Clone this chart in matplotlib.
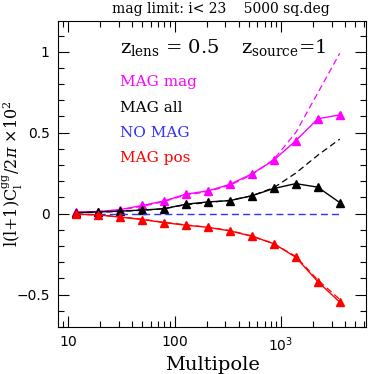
import numpy as np
import matplotlib
matplotlib.use('Agg')
import matplotlib.pyplot as plt
from matplotlib.ticker import LogLocator, MultipleLocator, NullFormatter

# multipole bins
ell = [12, 19, 31, 50, 80, 128, 206, 331, 532, 856, 1376, 2213, 3559]

# measured (solid, triangles) and theory (dashed)
mag_mag = [0.01, 0.012, 0.025, 0.05, 0.078, 0.12, 0.14, 0.18, 0.245, 0.33, 0.45, 0.585, 0.61]
mag_mag_th = [0.008, 0.012, 0.022, 0.045, 0.075, 0.115, 0.135, 0.175, 0.24, 0.335, 0.50, 0.745, 0.99]
mag_all = [0.005, 0.01, 0.015, 0.022, 0.03, 0.058, 0.072, 0.08, 0.11, 0.155, 0.185, 0.163, 0.068]
mag_all_th = [0.005, 0.008, 0.014, 0.02, 0.03, 0.055, 0.068, 0.082, 0.11, 0.16, 0.25, 0.36, 0.46]
no_mag = [0, 0, 0, 0, 0, 0, 0, 0, 0, 0, 0, 0, 0]
mag_pos = [-0.004, -0.008, -0.022, -0.037, -0.056, -0.072, -0.085, -0.107, -0.14, -0.186, -0.27, -0.42, -0.547]
mag_pos_th = [-0.004, -0.008, -0.02, -0.035, -0.054, -0.07, -0.084, -0.105, -0.138, -0.186, -0.265, -0.41, -0.53]

xticks = [10, 100, 1000]
xticklabels = [r'$\mathsf{10}$', r'$\mathsf{100}$', r'$\mathsf{10^3}$']
yticks = [-0.5, 0, 0.5, 1]
yticklabels = ['\u22120.5', '0', '0.5', '1']

plt.rcParams['mathtext.fontset'] = 'dejavuserif'
serif = 'DejaVu Serif'
fig = plt.figure(figsize=(3.74, 3.74), dpi=100)
ax = fig.add_axes([0.155, 0.126, 0.824, 0.818])

ax.plot(ell, mag_mag_th, '--', color='magenta', lw=0.9, dashes=(5, 3))
ax.plot(ell, mag_mag, '-', color='magenta', lw=1.0, marker='^', ms=5.5)
ax.plot(ell, mag_all_th, '--', color='black', lw=0.9, dashes=(5, 3))
ax.plot(ell, mag_all, '-', color='black', lw=1.0, marker='^', ms=5.5)
ax.plot(ell, no_mag, '--', color='#3030ff', lw=1.0, dashes=(5, 3))
ax.plot(ell, mag_pos_th, '--', color='red', lw=0.9, dashes=(5, 3))
ax.plot(ell, mag_pos, '-', color='red', lw=1.0, marker='^', ms=5.5)

ax.set_xscale('log')
ax.set_xlim(8.05, 6300)
ax.set_ylim(-0.7, 1.19)

ax.set_xticks(xticks)
ax.set_xticklabels(xticklabels)
ax.xaxis.set_minor_locator(LogLocator(base=10, subs=np.arange(2, 10)))
ax.xaxis.set_minor_formatter(NullFormatter())
ax.set_yticks(yticks)
ax.set_yticklabels(yticklabels)
ax.yaxis.set_minor_locator(MultipleLocator(0.1))
ax.tick_params(which='both', direction='in', top=True, right=True, labelsize=10)
ax.tick_params(which='major', length=8, width=0.8)
ax.tick_params(which='minor', length=4, width=0.8)
ax.tick_params(axis='x', pad=6)
ax.tick_params(axis='y', pad=6)

# axis titles as figure texts
fig.text(0.567, 0.025, 'Multipole', family=serif, fontsize=14, ha='center', va='center')
fig.text(0.035, 0.535, r'l(l+1)C$_{\rm l}^{\rm gg}$/2$\pi$ $\times10^2$', family=serif,
         fontsize=11.5, rotation=90, ha='center', va='center')

fig.text(0.59, 0.975, 'mag limit: i< 23    5000 sq.deg', family=serif,
         fontsize=10, ha='center', va='center')
ax.text(0.2, 0.895, r'z$_{\rm lens}$ = 0.5', transform=ax.transAxes, family=serif, fontsize=14)
ax.text(0.595, 0.895, r'z$_{\rm source}$=1', transform=ax.transAxes, family=serif, fontsize=14)

labels = ['MAG mag', 'MAG all', 'NO MAG', 'MAG pos']
colors = ['magenta', 'black', '#3030ff', 'red']
for i, (lab, c) in enumerate(zip(labels, colors)):
    ax.text(0.2, 0.8 - i * 0.083, lab, transform=ax.transAxes, family=serif,
            fontsize=11, color=c, va='center')

plt.savefig('out.png', dpi=100)
